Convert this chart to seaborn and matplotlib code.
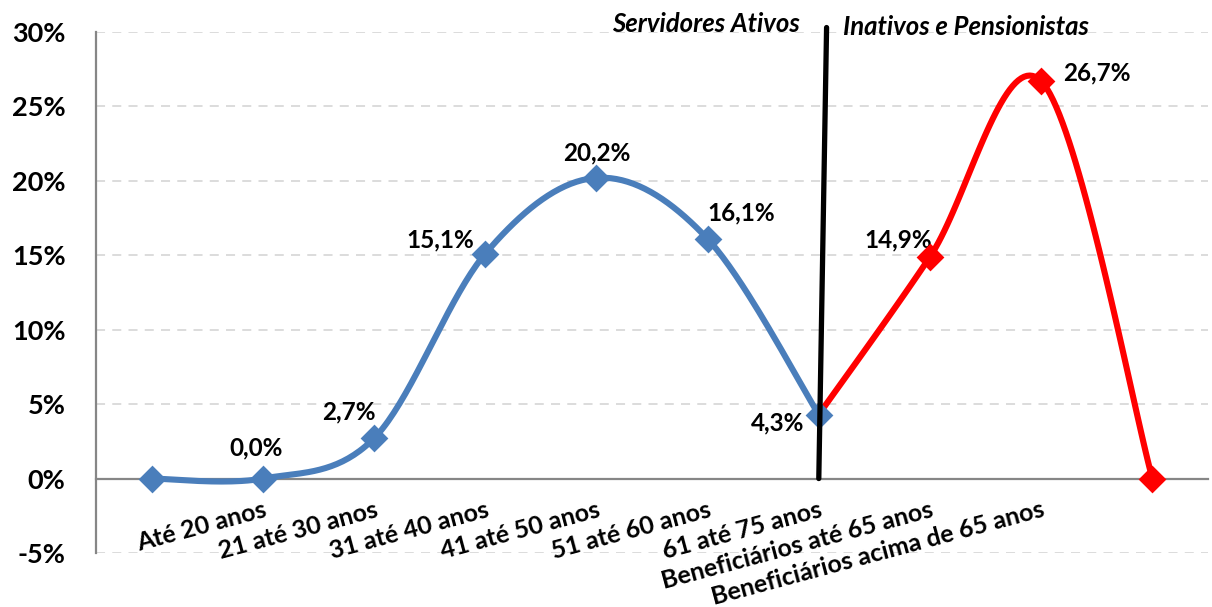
"""
Distribuição etária: servidores ativos x inativos e pensionistas.
"""

import numpy as np
import pandas as pd
import matplotlib
matplotlib.use("Agg")
import matplotlib.pyplot as plt
import seaborn as sns

# --- dados -------------------------------------------------------------
categories = ["Até 20 anos", "21 até 30 anos", "31 até 40 anos", "41 até 50 anos",
              "51 até 60 anos", "61 até 75 anos", "Beneficiários até 65 anos",
              "Beneficiários acima de 65 anos"]
ativos_x = [0, 1, 2, 3, 4, 5, 6]
ativos = [0.0, 0.0, 2.7, 15.1, 20.2, 16.1, 4.3]
ativos_labels = [None, "0,0%", "2,7%", "15,1%", "20,2%", "16,1%", "4,3%"]
inativos_x = [6, 7, 8, 9]
inativos = [4.3, 14.9, 26.7, 0.0]
inativos_labels = [None, "14,9%", "26,7%", None]
yticks = [-5, 0, 5, 10, 15, 20, 25, 30]

# offsets (pt) of the data labels from their points
ativos_off = [None, (-5, 22), (-18, 19), (-32, 10), (0, 18), (24, 19), (-30, -6)]
inativos_off = [None, (-23, 12), (40, 6), None]

BLUE = "#4A7EBB"
RED = "#FF0000"
GRAY = "#868686"


def excel_smooth(x, y, n=40):
    """Bezier smoothing like Excel's 'smoothed line'."""
    p = np.column_stack([x, y]).astype(float)
    out = []
    for i in range(len(p) - 1):
        p0 = p[max(i - 1, 0)]
        p1, p2 = p[i], p[i + 1]
        p3 = p[min(i + 2, len(p) - 1)]
        c1 = p1 + (p2 - p0) / 6
        c2 = p2 - (p3 - p1) / 6
        t = np.linspace(0, 1, n)[:, None]
        seg = (1 - t) ** 3 * p1 + 3 * (1 - t) ** 2 * t * c1 + 3 * (1 - t) * t ** 2 * c2 + t ** 3 * p2
        out.append(seg if i == 0 else seg[1:])
    s = np.vstack(out)
    return pd.DataFrame({"x": s[:, 0], "y": s[:, 1]})


sns.set_style("white")
plt.rcParams["font.family"] = ["Lato", "DejaVu Sans"]
plt.rcParams["font.weight"] = "bold"
plt.rcParams["text.color"] = "black"

fig = plt.figure(figsize=(12.12, 6.07), dpi=100)
ax = fig.add_axes([0.0792, 0.089, 0.9175, 0.8583])

for side in ["top", "right"]:
    ax.spines[side].set_visible(False)
# must come before tick styling (set_position resets the ticks)
ax.spines["bottom"].set_position(("data", 0))
ax.spines["bottom"].set_color(GRAY)
ax.spines["bottom"].set_linewidth(1.6)
ax.spines["left"].set_color(GRAY)
ax.spines["left"].set_linewidth(1.6)

for y in yticks:
    if y != 0:
        ax.axhline(y, color="#D9D9D9", lw=1.3, ls=(0, (5, 4)), zorder=0)

sns.lineplot(data=excel_smooth(inativos_x, inativos), x="x", y="y", sort=False,
             estimator=None, color=RED, lw=4.4, ax=ax, zorder=2)
sns.lineplot(data=excel_smooth(ativos_x, ativos), x="x", y="y", sort=False,
             estimator=None, color=BLUE, lw=4.4, ax=ax, zorder=3)
sns.scatterplot(x=inativos_x[1:], y=inativos[1:], marker="D", s=200, color=RED,
                linewidth=0, ax=ax, zorder=4, clip_on=False)
sns.scatterplot(x=ativos_x, y=ativos, marker="D", s=200, color=BLUE,
                linewidth=0, ax=ax, zorder=5, clip_on=False)

for xs, ys, labs, offs in [(ativos_x, ativos, ativos_labels, ativos_off),
                           (inativos_x, inativos, inativos_labels, inativos_off)]:
    for x, y, lab, off in zip(xs, ys, labs, offs):
        if lab:
            ax.annotate(lab, (x, y), xytext=off, textcoords="offset points",
                        ha="center", va="center", fontsize=17.5, fontweight="bold",
                        color="black")

# divider between the two groups
ax.plot([6.0, 6.07], [0, 30.3], color="black", lw=3.8, zorder=6, clip_on=False)
ax.text(5.83, 30.57, "Servidores Ativos", ha="right", va="center", fontsize=18.5,
        fontstyle="italic", fontweight="bold", color="black")
ax.text(6.22, 30.36, "Inativos e Pensionistas", ha="left", va="center", fontsize=18.5,
        fontstyle="italic", fontweight="bold", color="black")

ax.set_xlim(-0.5, 9.5)
ax.set_ylim(-5, 30)
ax.set_yticks(yticks)
ax.set_yticklabels([f"{v}%" for v in yticks], fontsize=19.5, fontweight="bold")
ax.set_xticks(np.arange(-0.5, 10, 1))
ax.set_xticklabels([])
ax.set_xticks(range(1, len(categories) + 1), minor=True)
ax.set_xticklabels(categories, minor=True, rotation=15, ha="right",
                   rotation_mode="anchor", fontsize=18, fontweight="bold")
ax.tick_params(axis="x", which="minor", length=0, pad=14, labelcolor="black")
ax.tick_params(axis="x", which="major", direction="out", length=6, width=1.3, color=GRAY)
ax.tick_params(axis="y", direction="out", length=7, width=1.3, color=GRAY, pad=15,
               labelcolor="black")
ax.set_xlabel("")
ax.set_ylabel("")

fig.savefig("out.png", dpi=100)
